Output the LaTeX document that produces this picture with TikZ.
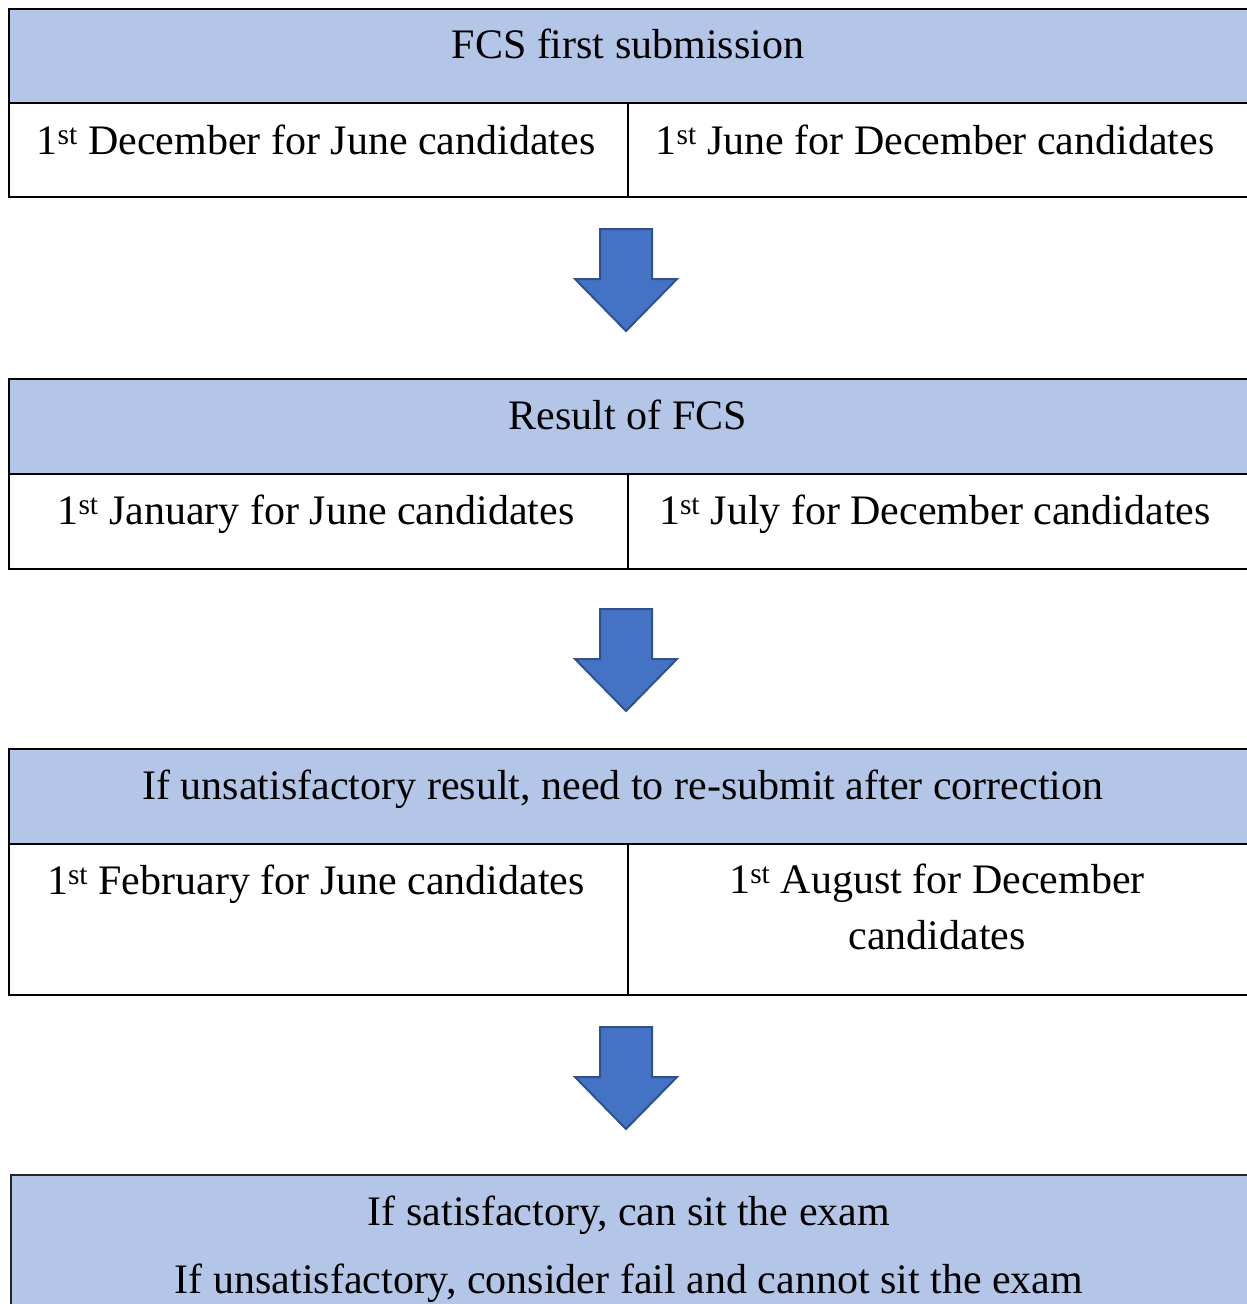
\documentclass[tikz,border=0pt]{standalone}
\usepackage{fontspec}
\setmainfont{Liberation Serif}
\definecolor{hdr}{HTML}{B4C6E7}
\definecolor{arrfill}{HTML}{4472C4}
\definecolor{arrdraw}{HTML}{2F528F}
\tikzset{
  rowbox/.style={draw=black, line width=2pt, inner sep=0pt, outer sep=0pt, anchor=north west},
  txt/.style={anchor=base, inner sep=0pt, align=center, font=\fontsize{42}{56}\selectfont},
  downarrow/.style={fill=arrfill, draw=arrdraw, line width=2pt, line join=miter},
}
\newcommand{\dnarrow}[1]{% #1 = name of top coordinate
  \draw[downarrow] ($(#1)+(-26,0)$) -- ($(#1)+(26,0)$) -- ($(#1)+(26,50)$) -- ($(#1)+(51,50)$)
    -- ($(#1)+(0,102)$) -- ($(#1)+(-51,50)$) -- ($(#1)+(-26,50)$) -- cycle;}
\usetikzlibrary{calc}
\begin{document}
\begin{tikzpicture}[x=1pt,y=-1pt]
\useasboundingbox (0,0) rectangle (1247,1304);
\clip (0,0) rectangle (1247,1304);

% ---------- table 1
\node[rowbox, fill=hdr, minimum width=1260pt, minimum height=94pt] (h1) at (9,9) {};
\node[rowbox, minimum width=619pt, minimum height=94pt] (l1) at (9,103) {};
\node[rowbox, minimum width=641pt, minimum height=94pt] (r1) at (628,103) {};
\node[txt] (th1) at (628,58) {FCS first submission};
\node[txt] (tl1) at (316,154) {1\textsuperscript{st} December for June candidates};
\node[txt] (tr1) at (935,154) {1\textsuperscript{st} June for December candidates};

% ---------- table 2
\node[rowbox, fill=hdr, minimum width=1260pt, minimum height=95pt] (h2) at (9,379) {};
\node[rowbox, minimum width=619pt, minimum height=95pt] (l2) at (9,474) {};
\node[rowbox, minimum width=641pt, minimum height=95pt] (r2) at (628,474) {};
\node[txt] (th2) at (628,429) {Result of FCS};
\node[txt] (tl2) at (316,524) {1\textsuperscript{st} January for June candidates};
\node[txt] (tr2) at (935,524) {1\textsuperscript{st} July for December candidates};

% ---------- table 3
\node[rowbox, fill=hdr, minimum width=1260pt, minimum height=95pt] (h3) at (9,749) {};
\node[rowbox, minimum width=619pt, minimum height=151pt] (l3) at (9,844) {};
\node[rowbox, minimum width=641pt, minimum height=151pt] (r3) at (628,844) {};
\node[txt] (th3) at (623,799) {If unsatisfactory result, need to re-submit after correction};
\node[txt] (tl3) at (316,894) {1\textsuperscript{st} February for June candidates};
\node[txt] (tr3) at (937,949) {1\textsuperscript{st} August for December\\candidates};

% ---------- final box
\node[rowbox, fill=hdr, draw=black!85, line width=1.4pt, minimum width=1260pt, minimum height=160pt] (fin) at (11,1175) {};
\node[txt, font=\fontsize{42}{68}\selectfont] (tf) at (629,1293)
  {If satisfactory, can sit the exam\\If unsatisfactory, consider fail and cannot sit the exam};

% ---------- arrows
\coordinate (a1) at ($(l1.south east)+(-2,32)$);
\coordinate (a2) at ($(l2.south east)+(-2,40)$);
\coordinate (a3) at ($(l3.south east)+(-2,32)$);
\dnarrow{a1}
\dnarrow{a2}
\dnarrow{a3}
\end{tikzpicture}
\end{document}
